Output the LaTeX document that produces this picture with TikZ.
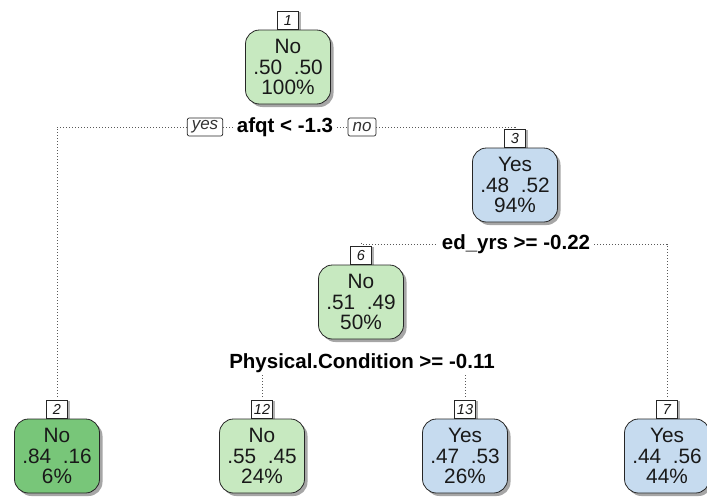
\documentclass[tikz,border=0pt]{standalone}
\usepackage{fontspec}
\setmainfont{Liberation Sans}
\usetikzlibrary{shadows}
\definecolor{ltgreen}{RGB}{199,233,192}
\definecolor{dkgreen}{RGB}{120,198,121}
\definecolor{ltblue}{RGB}{198,219,239}
\definecolor{ink}{RGB}{25,25,25}
\begin{document}
\begin{tikzpicture}[x=1pt,y=-1pt,
  leafbox/.style={draw=black!85, line width=0.8pt, rounded corners=14pt,
    minimum width=85pt, minimum height=74pt, inner sep=0pt, align=center,
    text=ink, font=\fontsize{20.8}{20.5}\selectfont,
    drop shadow={shadow xshift=3pt, shadow yshift=-3pt, fill=black, opacity=0.35}},
  numbox/.style={draw=black!85, line width=0.7pt, fill=white, anchor=south,
    minimum width=21pt, minimum height=18pt, inner sep=1pt, text=ink,
    font=\fontsize{14.5}{14.5}\selectfont\itshape,
    drop shadow={shadow xshift=2.5pt, shadow yshift=-1pt, fill=black, opacity=0.3}},
  sidebox/.style={draw=black!85, line width=0.7pt, fill=white, rounded corners=2pt,
    minimum height=18pt, inner xsep=4.5pt, inner ysep=1pt, text=black!80,
    font=\fontsize{17}{17}\selectfont\itshape},
  splitlabel/.style={fill=white, inner xsep=4pt, inner ysep=1pt, text=black,
    font=\fontsize{20.5}{21}\selectfont\bfseries},
  dotline/.style={draw=black!65, line width=1pt, dash pattern=on 1pt off 2pt}
]
\useasboundingbox (0,0) rectangle (707,498);

% tree nodes
\node[leafbox, fill=ltgreen] (n1) at (288,67) {No\\.50\ \ .50\\100\%};
\node[numbox] (l1) at (n1.north) {1};

\node[leafbox, fill=ltblue] (n3) at (515,185) {Yes\\.48\ \ .52\\94\%};
\node[numbox] (l3) at (n3.north) {3};

\node[leafbox, fill=ltgreen] (n6) at (361,302) {No\\.51\ \ .49\\50\%};
\node[numbox] (l6) at (n6.north) {6};

\node[leafbox, fill=dkgreen] (n2) at (57,456) {No\\.84\ \ .16\\6\%};
\node[numbox] (l2) at (n2.north) {2};

\node[leafbox, fill=ltgreen] (n12) at (262,456) {No\\.55\ \ .45\\24\%};
\node[numbox] (l12) at (n12.north) {12};

\node[leafbox, fill=ltblue] (n13) at (465,456) {Yes\\.47\ \ .53\\26\%};
\node[numbox] (l13) at (n13.north) {13};

\node[leafbox, fill=ltblue] (n7) at (667,456) {Yes\\.44\ \ .56\\44\%};
\node[numbox] (l7) at (n7.north) {7};

% split labels
\node[splitlabel] (afqt) at (285,127) {afqt < -1.3};
\node[sidebox] (yes) at (205,127) {yes};
\node[sidebox] (no) at (362,127) {no};
\node[splitlabel] (edyrs) at (516,244) {ed\_yrs >= -0.22};
\node[splitlabel] (phys) at (362,363) {Physical.Condition >= -0.11};

% connectors
\draw[dotline, shorten <=3pt] (l2.north) |- (yes.west);
\draw[dotline] (yes.east) -- (afqt.west);
\draw[dotline] (afqt.east) -- (no.west);
\draw[dotline, shorten >=3pt] (no.east) -| (l3.north);
\draw[dotline, shorten <=3pt] (l6.north) |- (edyrs.west);
\draw[dotline, shorten >=3pt] (edyrs.east) -| (l7.north);
\draw[dotline, shorten <=3pt] (l12.north) -- (l12.north |- phys.south);
\draw[dotline, shorten <=3pt] (l13.north) -- (l13.north |- phys.south);
\end{tikzpicture}
\end{document}
